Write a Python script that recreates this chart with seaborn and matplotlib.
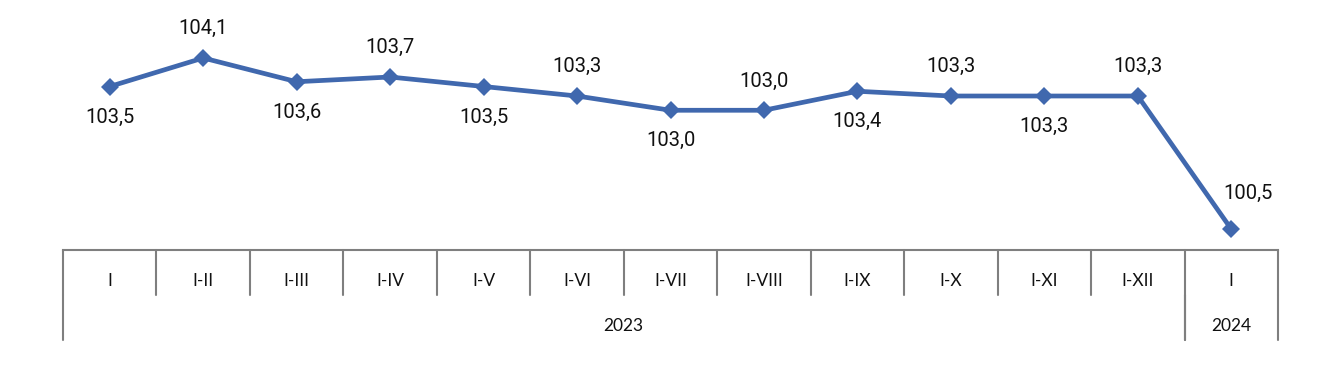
import numpy as np
import pandas as pd
import seaborn as sns
from matplotlib import pyplot as plt

periods = ['I', 'I-II', 'I-III', 'I-IV', 'I-V', 'I-VI', 'I-VII', 'I-VIII',
           'I-IX', 'I-X', 'I-XI', 'I-XII', 'I']
values = [103.5, 104.1, 103.6, 103.7, 103.5, 103.3, 103.0, 103.0,
          103.4, 103.3, 103.3, 103.3, 100.5]
label_pos = ['below', 'above', 'below', 'above', 'below', 'above', 'below',
             'above', 'below', 'above', 'below', 'above', 'above']
years = ['2023', '2024']
year_counts = [12, 1]

sns.set_style('white')
plt.rcParams['font.family'] = ['Roboto', 'DejaVu Sans']

blue = '#4068AE'
grid_gray = '#7F7F7F'

df = pd.DataFrame({'pos': np.arange(len(values)), 'value': values})

fig = plt.figure(figsize=(13.28, 3.68), dpi=100)
ax = fig.add_axes([63 / 1328, 1 - 250 / 368, 1215 / 1328, 250 / 368])

sns.lineplot(data=df, x='pos', y='value', ax=ax, color=blue, linewidth=3.4,
             marker='D', markersize=9.5, markeredgewidth=0, sort=False)

ax.set_xlim(-0.5, len(values) - 0.5)
ax.set_ylim(100.06, 105.32)
ax.set_xlabel('')
ax.set_ylabel('')

for i, (x, v, p) in enumerate(zip(df['pos'], values, label_pos)):
    dx, dy = (0, 21) if p == 'above' else (0, -22)
    if i == len(values) - 1:
        dx, dy = 12, 26
    ax.annotate(f'{v:.1f}'.replace('.', ','), (x, v), xytext=(dx, dy),
                textcoords='offset points', ha='center', va='center',
                fontsize=14.5, color='#111111')

# table-like category axis
ax.set_xticks([])
ax.set_yticks([])
for s in ['top', 'right', 'left']:
    ax.spines[s].set_visible(False)
ax.spines['bottom'].set_color(grid_gray)
ax.spines['bottom'].set_linewidth(1.5)

trans = ax.get_xaxis_transform()
row1 = -45 / 250
row2 = -90 / 250
n = len(periods)
for i in range(n + 1):
    ax.plot([i - 0.5, i - 0.5], [0, row1], transform=trans, color=grid_gray,
            lw=1.5, clip_on=False)
for i, lab in enumerate(periods):
    ax.text(i, -31 / 250, lab, transform=trans, ha='center', va='center',
            fontsize=12.5, family=['Lato', 'DejaVu Sans'], color='#111111')

start = 0
for yr, cnt in zip(years, year_counts):
    for edge in (start, start + cnt):
        ax.plot([edge - 0.5, edge - 0.5], [row1, row2], transform=trans,
                color=grid_gray, lw=1.5, clip_on=False)
    ax.text(start + (cnt - 1) / 2, -76 / 250, yr, transform=trans,
            ha='center', va='center', fontsize=12.5,
            family=['Lato', 'DejaVu Sans'], color='#111111')
    start += cnt

fig.savefig('out.png', dpi=100)
